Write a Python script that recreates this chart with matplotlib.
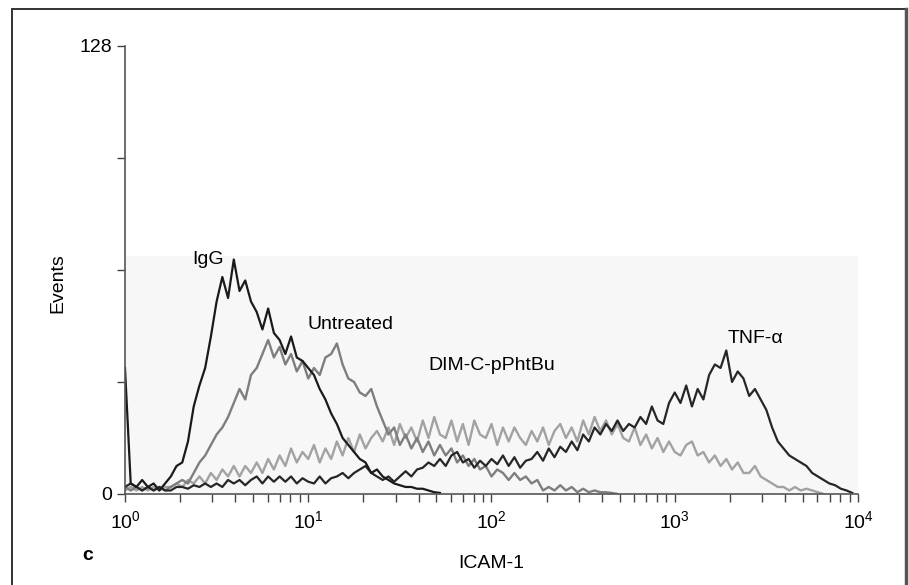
import numpy as np
import matplotlib
matplotlib.use("Agg")
import matplotlib.pyplot as plt
from matplotlib.patches import Rectangle

plt.rcParams['font.family'] = ['Liberation Sans', 'DejaVu Sans']
plt.rcParams['mathtext.default'] = 'regular'

# log-scale channels (64 channels per decade, 10^0 .. 10^4), counts
igg_ch = np.arange(0, 112, 2)
igg = [36, 3, 2, 4, 2, 3, 1, 3, 5, 8, 9, 15, 25, 31, 36, 45, 55, 62, 56, 67,
       58, 61, 55, 52, 47, 53, 46, 44, 40, 45, 39, 38, 36, 34, 30, 27, 23, 20, 16, 14,
       12, 10, 9, 6, 7, 5, 4, 3, 2.5, 2, 2, 1.5, 1.5, 1, 0.5, 0.3]

untreated_ch = np.arange(0, 174, 2)
untreated = [2, 1, 2, 1, 2, 1, 2, 1, 2, 3, 4, 3, 6, 9, 11, 14, 17, 19, 22, 26,
             30, 27, 34, 36, 40, 44, 39, 42, 37, 40, 35, 38, 33, 36, 34, 39, 40, 43, 37, 33,
             32, 29, 28, 30, 25, 21, 17, 19, 14, 17, 13, 16, 12, 15, 11, 14, 11, 13, 9, 11,
             8, 10, 7, 8, 5, 7, 6, 4, 6, 4, 5, 3, 4, 1, 2, 1, 2.5, 1, 2, 0.5,
             1.5, 0.5, 1, 0.5, 0.5, 0.3, 0]

dim_ch = np.arange(0, 246, 2)
dim = [1, 2, 1, 2, 1, 2, 1, 2, 2, 3, 2, 4, 3, 5, 3, 6, 4, 7, 5, 8,
       5, 8, 6, 9, 6, 10, 7, 11, 8, 13, 9, 12, 10, 14, 9, 13, 10, 15, 11, 16,
       12, 17, 13, 16, 18, 15, 19, 14, 20, 16, 19, 15, 21, 16, 22, 17, 16, 21, 15, 20,
       14, 21, 17, 16, 20, 14, 19, 15, 19, 16, 14, 18, 15, 19, 14, 18, 20, 16, 19, 15,
       21, 17, 22, 18, 21, 17, 20, 16, 15, 19, 14, 17, 13, 16, 12, 15, 12, 11, 14, 15,
       11, 12, 9, 11, 8, 10, 7, 9, 6, 6, 8, 5, 4, 3, 2, 2, 1, 2, 1, 1.5,
       1, 0.5, 0]

tnf_ch = np.arange(0, 256, 2)
tnf = [2, 3, 2, 1, 2, 1, 2, 1, 1, 2, 2, 1.5, 2.5, 2, 3, 2, 3, 2, 4, 3,
       4, 2.5, 4, 5, 3, 5, 3.5, 5, 3.5, 5, 3, 4.5, 3.5, 3, 5, 3, 4.5, 5, 6, 4.5,
       6, 7, 8, 6, 5, 4, 5, 3.5, 5, 6.5, 5, 7, 7.5, 9, 8, 10, 8, 11, 12, 9,
       10, 7.5, 9.5, 8, 10, 8.5, 11, 8, 10.5, 7.5, 9.5, 10, 12, 9.5, 13, 10.5, 13.5, 12, 15, 12.5,
       17, 15, 19, 17, 20, 18, 21, 18, 20, 19, 22, 20, 25, 21, 20, 26, 29, 26, 31, 25,
       30, 27, 34, 37, 36, 41, 32, 35, 33, 28, 30, 27, 24, 19, 15, 13, 11, 10, 9, 8,
       6, 5, 4, 3, 2.5, 1.5, 1, 0.3]

labels = ['IgG', 'Untreated', 'DIM-C-pPhtBu', 'TNF-\u03b1']
label_x = [2.84, 16.9, 100, 2775]
label_y = [67, 48.3, 36.6, 44.3]
shade_top = 68


def to_x(ch):
    return 10 ** (np.asarray(ch) / 64.0)


fig = plt.figure(figsize=(9.09, 5.85), dpi=100)
ax = fig.add_axes([0.1375, 0.1556, 0.8064, 0.7658])

ax.axhspan(0, shade_top, color='#f7f7f7', lw=0, zorder=0)
ax.plot(to_x(dim_ch), dim, color='#a2a2a2', lw=1.7)
ax.plot(to_x(untreated_ch), untreated, color='#7e7e7e', lw=1.7)
ax.plot(to_x(tnf_ch), tnf, color='#262626', lw=1.6)
ax.plot(to_x(igg_ch), igg, color='#1a1a1a', lw=1.6)

for t, x, y in zip(labels, label_x, label_y):
    ax.text(x, y, t, ha='center', va='center', fontsize=14)

ax.set_xscale('log')
ax.set_xlim(1, 1e4)
ax.set_ylim(0, 128)
ax.set_xticks([1, 10, 100, 1000, 10000])
ax.set_xticklabels([r'$10^{0}$', r'$10^{1}$', r'$10^{2}$', r'$10^{3}$', r'$10^{4}$'])
ax.xaxis.set_minor_locator(matplotlib.ticker.LogLocator(base=10, subs=np.arange(2, 10)))
ax.xaxis.set_minor_formatter(matplotlib.ticker.NullFormatter())
ax.set_yticks([0, 32, 64, 96, 128])
ax.set_yticklabels(['0', '', '', '', '128'])
ax.tick_params(axis='both', which='both', direction='out', length=6, width=1,
               color='#444444', labelsize=14)
ax.tick_params(axis='x', which='both', pad=6)

for s in ['top', 'right']:
    ax.spines[s].set_visible(False)
for s in ['left', 'bottom']:
    ax.spines[s].set_color('#555555')
    ax.spines[s].set_linewidth(1.2)

ax.set_ylabel('Events', fontsize=14)
ax.yaxis.set_label_coords(-0.08, 0.47)
ax.set_xlabel('ICAM-1', fontsize=14)
ax.xaxis.set_label_coords(0.5, -0.136)

fig.text(88 / 909, 1 - 555 / 585, 'c', fontsize=14, weight='bold', ha='center', va='center')
fig.patches.append(Rectangle((12 / 909, -0.05), 894 / 909, 1.05 - 9 / 585,
                             transform=fig.transFigure, fill=False,
                             edgecolor='#333333', lw=1.4))
fig.add_artist(plt.Line2D([906 / 909, 906 / 909], [0, 1 - 9 / 585],
                          transform=fig.transFigure, color='#555555', lw=2.5))

fig.savefig('out.png', dpi=100)
